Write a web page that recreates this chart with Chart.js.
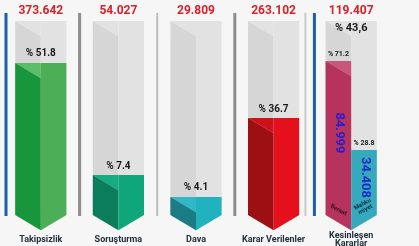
<!DOCTYPE html>
<html>
<head>
<meta charset="utf-8">
<script src="https://cdn.jsdelivr.net/npm/chart.js@4.4.0/dist/chart.umd.min.js"></script>
<style>
  html, body { margin: 0; padding: 0; background: #f6f6f6; }
  #wrap { width: 419px; height: 246px; }
</style>
</head>
<body>
<div id="wrap"><canvas id="myChart"></canvas></div>
<script>
const categories = [['Takipsizlik'], ['Soruşturma'], ['Dava'], ['Karar Verilenler'], ['Kesinleşen', 'Kararlar']];
const totals = ['373.642', '54.027', '29.809', '263.102', '119.407'];
const shareLabels = ['% 51.8', '% 7.4', '% 4.1', '% 36.7', '% 43,6'];
const columnLevel = [100, 100, 100, 100, 100];
// visible fill height of each column (% of column), last bar is split in two halves
const leftLevel = [78.4, 20.6, 9.3, 50, 79.4];
const rightLevel = [78.4, 20.6, 9.3, 50, 33.5];
const splitNames = [['Beraat'], ['Mahku', 'miyet']];
const splitValues = ['84.999', '34.408'];
const splitShares = ['% 71.2', '% 28.8'];

const darkColors = ['#17963b', '#0b7d5a', '#1b7c86', '#9c0f12', '#b5335c'];
const lightColors = ['#4caf58', '#0fa67b', '#21b2c0', '#e5101c', '#36aabd'];
const topColors = ['#5cbd68', '#14ad82', '#2fb9c6', '#cf1119', '#c9557b'];
const sepColors = ['#1d5ea8', '#8d8d8d', '#bdbdbd', '#8d8d8d', '#c9c9c9', '#1d5ea8'];

function poly(ctx, pts, color) {
  ctx.fillStyle = color;
  ctx.beginPath();
  ctx.moveTo(pts[0][0], pts[0][1]);
  for (let k = 1; k < pts.length; k++) ctx.lineTo(pts[k][0], pts[k][1]);
  ctx.closePath();
  ctx.fill();
}

function leftHalf(ctx, x, w, top, base, d, dark, topFace) {
  poly(ctx, [[x - w / 2, top], [x, top], [x, top + d]], topFace);
  poly(ctx, [[x - w / 2, top], [x, top + d], [x, base + d], [x - w / 2, base]], dark);
}

function rightHalf(ctx, x, w, top, base, d, light) {
  poly(ctx, [[x, top], [x + w / 2, top], [x + w / 2, base], [x, base + d]], light);
}

function txt(ctx, s, x, y, font, color, rot) {
  ctx.save();
  ctx.translate(x, y);
  if (rot) ctx.rotate(rot);
  ctx.font = font;
  ctx.fillStyle = color;
  ctx.textAlign = 'center';
  ctx.textBaseline = 'middle';
  ctx.fillText(s, 0, 0);
  ctx.restore();
}

const prismPlugin = {
  id: 'prism',
  afterDatasetsDraw(chart) {
    const ctx = chart.ctx;
    const area = chart.chartArea;
    const col = chart.getDatasetMeta(0).data;
    const lft = chart.getDatasetMeta(1).data;
    const rgt = chart.getDatasetMeta(2).data;
    const ff = 'Roboto, "DejaVu Sans", sans-serif';
    ctx.save();

    // separator lines between the columns
    const xs = col.map(b => b.x);
    const seps = [area.left + 4];
    for (let i = 0; i < 3; i++) seps.push((xs[i] + xs[i + 1]) / 2);
    const mid = (xs[3] + xs[4]) / 2;
    seps.push(mid - 7, mid + 2);
    seps.forEach((sx, i) => {
      ctx.fillStyle = sepColors[i];
      const lw = (i === 2 || i === 4) ? 2 : 3;
      ctx.fillRect(sx - lw / 2, area.top - 8, lw, area.bottom - area.top + 9);
    });

    col.forEach((bar, i) => {
      const x = bar.x, w = bar.width, base = bar.base;
      const d = w * 0.3;
      // grey column
      leftHalf(ctx, x, w, bar.y, base, d, '#d6d6d6', '#e2e2e2');
      rightHalf(ctx, x, w, bar.y, base, d, '#e2e2e2');
      // coloured fill
      if (i < 4) {
        leftHalf(ctx, x, w, lft[i].y, base, d, darkColors[i], topColors[i]);
        rightHalf(ctx, x, w, rgt[i].y, base, d, lightColors[i]);
        txt(ctx, shareLabels[i], x, lft[i].y - 9, 'bold 10px ' + ff, '#1a1a1a');
      } else {
        leftHalf(ctx, x, w, lft[i].y, base, d, darkColors[i], topColors[i]);
        rightHalf(ctx, x, w, rgt[i].y, base, d, lightColors[i]);
        txt(ctx, shareLabels[i], x, bar.y + 7, 'bold 11px ' + ff, '#1a1a1a');
        txt(ctx, splitShares[0], x - w / 4, lft[i].y - 7, 'bold 7px ' + ff, '#1a1a1a');
        txt(ctx, splitShares[1], x + w / 4, rgt[i].y - 7, 'bold 7px ' + ff, '#1a1a1a');
        txt(ctx, splitValues[0], x - w / 4 + 1, (lft[i].y + base) / 2 - 5, 'bold 13px ' + ff, '#2b1bd1', Math.PI / 2);
        txt(ctx, splitValues[1], x + w / 4 + 1, (rgt[i].y + base) / 2 - 5, 'bold 13px ' + ff, '#1d2bc4', Math.PI / 2);
        txt(ctx, splitNames[0][0], x - w / 4, base - 5, 'bold 6px ' + ff, '#3a0f1f', 0.5);
        ctx.save();
        ctx.translate(x + w / 4, base - 8);
        ctx.rotate(-0.5);
        splitNames[1].forEach((s, k) => txt(ctx, s, 0, k * 6 - 3, 'bold 6px ' + ff, '#0d2a4a'));
        ctx.restore();
      }
      // total on top
      txt(ctx, totals[i], x, area.top - 10, 'bold 12px ' + ff, '#d7212b');
      // category name under the column
      const lines = categories[i];
      lines.forEach((s, k) => {
        txt(ctx, s, x, 240 - (lines.length - 1) * 4 + k * 8, 'bold 9px ' + ff, '#22303f');
      });
    });
    ctx.restore();
  }
};

const ctx = document.getElementById('myChart').getContext('2d');
const myChart = new Chart(ctx, {
  type: 'bar',
  data: {
    labels: categories,
    datasets: [
      { label: 'Toplam', data: columnLevel, backgroundColor: 'rgba(0,0,0,0)' },
      { label: 'Sol', data: leftLevel, backgroundColor: 'rgba(0,0,0,0)' },
      { label: 'Sağ', data: rightLevel, backgroundColor: 'rgba(0,0,0,0)' }
    ]
  },
  options: {
    responsive: true,
    maintainAspectRatio: false,
    animation: false,
    layout: { padding: { left: 2, right: 29, top: 21, bottom: 31 } },
    datasets: { bar: { grouped: false, categoryPercentage: 1, barPercentage: 0.66 } },
    plugins: { legend: { display: false }, tooltip: { enabled: false } },
    scales: {
      x: { display: false },
      y: { display: false, min: 0, max: 100 }
    }
  },
  plugins: [prismPlugin]
});
</script>
</body>
</html>
